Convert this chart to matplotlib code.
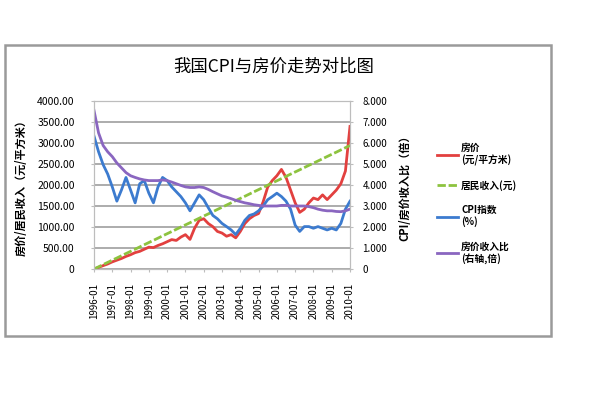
import matplotlib
matplotlib.use("Agg")
import matplotlib.pyplot as plt
from matplotlib.patches import Rectangle

plt.rcParams['font.family'] = ['Noto Sans CJK SC', 'DejaVu Sans']

title = "我国CPI与房价走势对比图"
left_label = "房价/居民收入（元/平方米）"
right_label = "CPI/房价收入比（倍）"
x_labels = ["1996-01", "1997-01", "1998-01", "1999-01", "2000-01", "2001-01", "2002-01",
            "2003-01", "2004-01", "2005-01", "2006-01", "2007-01", "2008-01", "2009-01",
            "2010-01"]
series_names = ["房价\n(元/平方米)", "居民收入(元)", "CPI指数\n(%)", "房价收入比\n(右轴,倍)"]

# left axis series (yuan)
house_price = [0, 40, 80, 120, 170, 210, 250, 300, 340, 390, 420, 470, 520, 510, 560, 600,
               650, 700, 680, 760, 818, 705, 970, 1159, 1197, 1083, 1008, 894, 856, 780,
               818, 742, 894, 1083, 1197, 1273, 1320, 1600, 1950, 2106, 2220, 2371, 2182,
               1879, 1576, 1348, 1424, 1576, 1690, 1652, 1765, 1652, 1765, 1879, 2030,
               2333, 3394]
income = [0, 52, 105, 158, 210, 262, 315, 368, 420, 472, 525, 578, 630, 682, 735, 788, 840,
          892, 945, 998, 1050, 1102, 1155, 1208, 1260, 1312, 1365, 1418, 1470, 1522, 1575,
          1628, 1680, 1732, 1785, 1838, 1890, 1942, 1995, 2048, 2100, 2152, 2205, 2258,
          2310, 2362, 2415, 2468, 2520, 2572, 2625, 2678, 2730, 2782, 2835, 2888, 2940]
# right axis series
cpi = [6.33, 5.58, 4.97, 4.52, 3.91, 3.23, 3.76, 4.36, 3.76, 3.15, 4.06, 4.21, 3.61, 3.15,
       3.91, 4.36, 4.21, 3.91, 3.68, 3.45, 3.15, 2.77, 3.15, 3.53, 3.30, 2.92, 2.55, 2.39,
       2.17, 2.02, 1.86, 1.64, 1.94, 2.32, 2.55, 2.62, 2.77, 3.00, 3.30, 3.45, 3.61, 3.45,
       3.23, 2.85, 2.09, 1.79, 2.02, 2.02, 1.94, 2.02, 1.94, 1.86, 1.94, 1.86, 2.17, 2.85,
       3.23]
ratio = [7.55, 6.48, 5.88, 5.58, 5.35, 5.05, 4.82, 4.59, 4.44, 4.36, 4.29, 4.24, 4.21, 4.21,
         4.21, 4.24, 4.21, 4.14, 4.06, 3.98, 3.91, 3.88, 3.88, 3.91, 3.88, 3.79, 3.68, 3.58,
         3.48, 3.42, 3.35, 3.27, 3.21, 3.15, 3.11, 3.06, 3.03, 3.00, 3.00, 3.00, 3.00, 3.03,
         3.03, 3.00, 3.00, 3.00, 3.00, 2.97, 2.92, 2.85, 2.80, 2.77, 2.77, 2.74, 2.73, 2.77,
         2.85]

left_ticks = [0, 500, 1000, 1500, 2000, 2500, 3000, 3500, 4000]
right_ticks = [0, 1, 2, 3, 4, 5, 6, 7, 8]

fig = plt.figure(figsize=(6, 4), dpi=100)
fig.patch.set_facecolor("white")
fig.patches.append(Rectangle((5/600, 1-336/400), 546/600, 291/400, transform=fig.transFigure,
                             fill=False, edgecolor="#9a9a9a", lw=1.8))

ax = fig.add_axes([94/600, 1-269/400, 256/600, 168/400])
ax2 = ax.twinx()
x = list(range(len(house_price)))

l1, = ax.plot(x, house_price, color="#E2403F", lw=2)
l2, = ax.plot(x, income, color="#8DC33F", lw=2, ls=(0, (3, 1)))
l3, = ax2.plot(x, cpi, color="#3C7BCF", lw=2)
l4, = ax2.plot(x, ratio, color="#8A66C0", lw=2)

ax.set_xlim(0, len(x) - 1)
ax.set_ylim(0, 4000)
ax2.set_ylim(0, 8)
ax.set_yticks(left_ticks)
ax.set_yticklabels(["0"] + [f"{v:.2f}" for v in left_ticks[1:]], fontsize=7.5)
ax2.set_yticks(right_ticks)
ax2.set_yticklabels(["0"] + [f"{v:.3f}" for v in right_ticks[1:]], fontsize=7)
ax.set_xticks(x[::4])
ax.set_xticklabels(x_labels, rotation=90, fontsize=7)
ax.grid(axis="y", color="#acacac", lw=1.4)
ax.set_axisbelow(True)
for a in (ax, ax2):
    for s in a.spines.values():
        s.set_color("#bdbdbd")
    a.tick_params(length=2, color="#bdbdbd")
ax.tick_params(axis="y", pad=12)
ax.tick_params(axis="x", pad=8)
ax2.tick_params(axis="y", pad=7)

ax.set_ylabel(left_label, fontsize=8, fontweight="bold", labelpad=7)
ax2.set_ylabel(right_label, fontsize=8, fontweight="bold", labelpad=8)
fig.text(274/600, 1-67/400, title, ha="center", va="center", fontsize=12.5)

fig.legend([l1, l2, l3, l4], series_names, loc="upper left", bbox_to_anchor=(428/600, 1-134/400),
           frameon=False, prop={"size": 7, "weight": "bold"}, handlelength=2.2,
           labelspacing=1.45, handletextpad=0.3)

fig.savefig("out.png", dpi=100)
